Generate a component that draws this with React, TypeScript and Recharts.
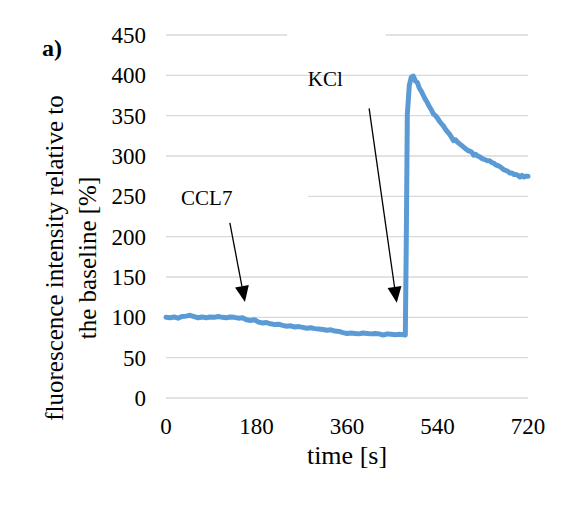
import React from 'react';
import {
  LineChart,
  Line,
  XAxis,
  YAxis,
  CartesianGrid,
  ReferenceLine,
  ReferenceArea,
  ReferenceDot,
  Label,
  Customized,
} from 'recharts';

const FONT = '"Liberation Serif", "Times New Roman", serif';

// time [s]
const times = [
  0, 8, 16, 24, 32, 40, 48, 56, 64, 72, 80, 88, 96, 104, 112, 120, 128, 136, 144, 152,
  160, 168, 176, 184, 192, 200, 208, 216, 224, 232, 240, 248, 256, 264, 272, 280, 288, 296, 304, 312,
  320, 328, 336, 344, 352, 360, 368, 376, 384, 392, 400, 408, 416, 424, 432, 440, 448, 456, 464, 472,
  476, 478, 480, 484, 488, 492, 496, 500, 504, 508, 512, 516, 520, 524, 528, 532, 536, 540, 544, 548,
  552, 556, 560, 564, 568, 572, 576, 580, 584, 588, 592, 596, 600, 604, 608, 612, 616, 620, 624, 628,
  632, 636, 640, 644, 648, 652, 656, 660, 664, 668, 672, 676, 680, 684, 688, 692, 696, 700, 704, 708,
  712, 716, 720,
];

// fluorescence relative to baseline [%]
const intensity = [
  100, 99.5, 100.5, 99, 101, 101.5, 102.5, 101, 99.5, 100.5, 99.5, 100.5, 100, 101, 100, 99.5, 100.5, 100, 99, 99.5,
  97, 96, 97, 94, 93, 93.5, 92, 91, 91.5, 90, 89, 89.5, 88, 88.5, 87.5, 86.5, 87, 86, 85.5, 85,
  84, 84.5, 83, 82.5, 81, 80, 80.5, 80, 79.5, 80.5, 80, 79.5, 80, 79.5, 78, 79.5, 79, 78.5, 79, 78.5,
  78, 200, 352, 388, 398, 399, 393, 391, 384, 380, 375, 370, 366, 361, 357, 352, 350, 347, 343, 340,
  337, 333, 330, 327, 323, 319, 320, 317, 315, 313, 311, 309, 307, 306, 305, 301, 302, 300, 299, 297,
  296, 295, 294, 294, 292, 291, 289, 288, 287, 285, 283, 282, 281, 279, 279, 277, 277, 276, 274, 276,
  274, 275, 275,
];

const xTicks = [0, 180, 360, 540, 720];
const yTicks = [0, 50, 100, 150, 200, 250, 300, 350, 400, 450];

const data = times.map((t, i) => ({ t, v: intensity[i] }));

function Arrow(props: any) {
  const { x1, y1, x2, y2 } = props;
  const dx = x2 - x1;
  const dy = y2 - y1;
  const len = Math.sqrt(dx * dx + dy * dy);
  const ux = dx / len;
  const uy = dy / len;
  const head = 16;
  const half = 7;
  const bx = x2 - ux * head;
  const by = y2 - uy * head;
  const pts = `${x2},${y2} ${bx - uy * half},${by + ux * half} ${bx + uy * half},${by - ux * half}`;
  return (
    <g>
      <line x1={x1} y1={y1} x2={bx} y2={by} stroke="#000" strokeWidth={1.3} />
      <polygon points={pts} fill="#000" />
    </g>
  );
}

function YTitle() {
  const cy = 258;
  const lines = [
    { x: 54, text: 'fluorescence intensity relative to' },
    { x: 87, text: 'the baseline [%]' },
  ];
  return (
    <g>
      {lines.map((l) => (
        <text
          key={l.text}
          x={l.x}
          y={cy}
          dy="0.35em"
          textAnchor="middle"
          transform={`rotate(-90, ${l.x}, ${cy})`}
          fontFamily={FONT}
          fontSize={25}
          fill="#000"
        >
          {l.text}
        </text>
      ))}
    </g>
  );
}

function XTitle(props: any) {
  const { viewBox } = props;
  return (
    <text
      x={viewBox.x + viewBox.width / 2}
      y={viewBox.y + 66}
      textAnchor="middle"
      fontFamily={FONT}
      fontSize={26}
      fill="#000"
    >
      time [s]
    </text>
  );
}

function Frame() {
  return (
    <g>
      <rect x={3.5} y={4.5} width={563} height={506.5} fill="none" stroke="#D9D9D9" strokeWidth={1} />
      <text x={42} y={56} fontFamily={FONT} fontSize={24} fontWeight="bold" fill="#000">
        a)
      </text>
      <YTitle />
    </g>
  );
}

export default function App() {
  const tickStyle = { fill: '#000', fontSize: 23, fontFamily: FONT };
  return (
    <div style={{ margin: -8, width: 568, height: 512, background: '#fff' }}>
      <LineChart width={568} height={512} data={data} margin={{ top: 35, right: 40, bottom: 0, left: 0 }}>
        <CartesianGrid vertical={false} stroke="#D9D9D9" strokeWidth={1.3} />
        <XAxis
          dataKey="t"
          type="number"
          domain={[0, 720]}
          ticks={xTicks}
          axisLine={false}
          tickLine={false}
          tickSize={8}
          tickMargin={12}
          height={114}
          tick={tickStyle}
          interval={0}
        >
          <Label content={<XTitle />} />
        </XAxis>
        <YAxis
          type="number"
          domain={[0, 450]}
          ticks={yTicks}
          axisLine={false}
          tickLine={false}
          tickSize={8}
          tickMargin={12}
          width={166}
          tick={tickStyle}
          interval={0}
        />
        <ReferenceArea x1={0} x2={283} y1={240} y2={262} fill="#fff" fillOpacity={1} stroke="none" />
        <ReferenceArea x1={241} x2={437} y1={440} y2={456} fill="#fff" fillOpacity={1} stroke="none" ifOverflow="visible" />
        <ReferenceDot x={81} y={248} r={0} fill="none" stroke="none">
          <Label value="CCL7" position="center" fontFamily={FONT} fontSize={21} fill="#000" />
        </ReferenceDot>
        <ReferenceDot x={317} y={396} r={0} fill="none" stroke="none">
          <Label value="KCl" position="center" fontFamily={FONT} fontSize={21} fill="#000" />
        </ReferenceDot>
        <ReferenceLine
          segment={[{ x: 127, y: 217 }, { x: 157, y: 119 }]}
          shape={<Arrow />}
        />
        <ReferenceLine
          segment={[{ x: 404, y: 359 }, { x: 459, y: 118 }]}
          shape={<Arrow />}
        />
        <Line
          type="linear"
          dataKey="v"
          stroke="#5B9BD5"
          strokeWidth={5}
          dot={false}
          isAnimationActive={false}
          strokeLinejoin="round"
          strokeLinecap="round"
        />
        <Customized component={<Frame />} />
      </LineChart>
    </div>
  );
}
